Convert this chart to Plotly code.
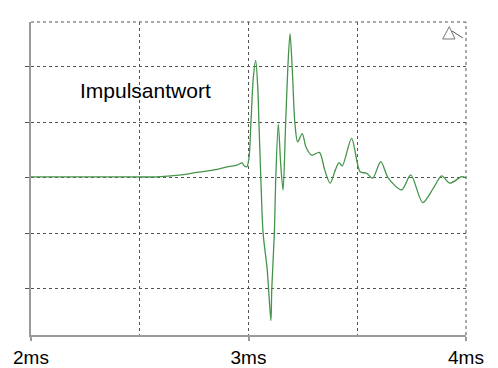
import plotly.graph_objects as go

# time in ms, amplitude in grid units
t_ms = [2.000, 2.200, 2.400, 2.579, 2.680, 2.763, 2.850, 2.901, 2.947, 2.970, 2.980, 2.992,
        3.002, 3.011, 3.022, 3.033, 3.043, 3.048, 3.057, 3.067, 3.086, 3.103, 3.107, 3.119,
        3.125, 3.137, 3.148, 3.159, 3.170, 3.181, 3.191, 3.202, 3.213, 3.226, 3.247, 3.265,
        3.291, 3.326, 3.350, 3.375, 3.400, 3.416, 3.431, 3.474, 3.513, 3.543, 3.571, 3.608,
        3.643, 3.704, 3.746, 3.801, 3.850, 3.888, 3.926, 3.980, 4.000]
amp = [0.02, 0.02, 0.02, 0.02, 0.05, 0.10, 0.15, 0.20, 0.23, 0.27, 0.22, 0.20,
       0.35, 0.98, 1.80, 2.12, 1.60, 0.99, -0.04, -0.99, -1.65, -2.57, -2.00, -0.99,
       -0.04, 0.97, 0.25, -0.22, 0.90, 2.00, 2.60, 1.90, 1.00, 0.65, 0.80, 0.55,
       0.41, 0.46, 0.15, -0.095, 0.15, 0.275, 0.216, 0.714, 0.113, 0.085, -0.005, 0.293,
       -0.005, -0.216, 0.054, -0.444, -0.185, 0.036, -0.095, 0.023, 0.0]

x_ticks = [2, 3, 4]
x_labels = ["2ms", "3ms", "4ms"]
y_grid = [-2, -1, 0, 1, 2]

FONT = "Liberation Sans, Arial, sans-serif"
GRID = "#555555"
AXIS = "#9a9a9a"

fig = go.Figure()
fig.add_trace(go.Scatter(x=t_ms, y=amp, mode="lines",
                         line=dict(color="#44954a", width=1.3, shape="spline", smoothing=0.8),
                         hoverinfo="skip", showlegend=False))

fig.update_xaxes(range=[2, 4], tickvals=x_ticks, ticktext=x_labels, automargin=False,
                 ticks="outside", ticklen=4, tickcolor=AXIS, tickwidth=1.5,
                 showline=True, linecolor=AXIS, linewidth=2,
                 showgrid=True, gridcolor=GRID, gridwidth=1, griddash="dot",
                 minor=dict(dtick=0.5, tick0=2, ticks="", showgrid=True,
                            gridcolor=GRID, gridwidth=1, griddash="dot"),
                 zeroline=False, tickfont=dict(family=FONT, size=19, color="black"))
fig.update_yaxes(range=[-2.83, 2.81], tickvals=y_grid, showticklabels=False, automargin=False,
                 ticks="outside", ticklen=4, tickcolor=GRID, tickwidth=1,
                 showline=True, linecolor=AXIS, linewidth=2,
                 showgrid=True, gridcolor=GRID, gridwidth=1, griddash="dot",
                 zeroline=False)

# top and right dashed borders
fig.add_shape(type="line", xref="paper", yref="paper", x0=0, x1=1, y0=1, y1=1,
              line=dict(color=GRID, width=1, dash="dot"))
fig.add_shape(type="line", xref="paper", yref="paper", x0=1, x1=1, y0=0, y1=1,
              line=dict(color=GRID, width=1, dash="dot"))
# small triangle icon
fig.add_shape(type="path", xref="paper", yref="paper",
              path="M 0.9616 0.985 L 0.9464 0.9457 L 0.9747 0.9457 Z",
              line=dict(color="#777777", width=1))
fig.add_shape(type="line", xref="paper", yref="paper", x0=0.9678, y0=0.9712, x1=0.993, y1=0.9489,
              line=dict(color="#555555", width=1))

fig.add_annotation(x=2.526, y=1.58, text="Impulsantwort", showarrow=False,
                   font=dict(family=FONT, size=21, color="black"))

fig.update_layout(width=498, height=368, margin=dict(l=31, r=32, t=22, b=33),
                  paper_bgcolor="white", plot_bgcolor="white")

fig.write_html("out.html")
